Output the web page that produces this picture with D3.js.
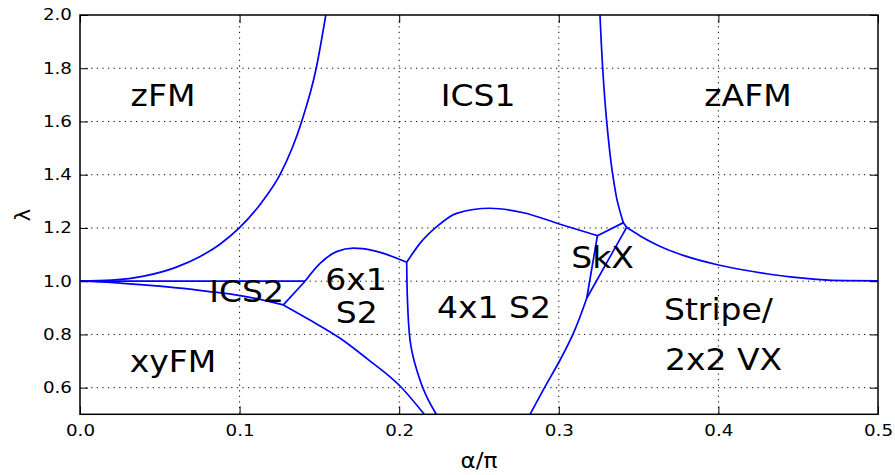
<!DOCTYPE html>
<html>
<head>
<meta charset="utf-8">
<script src="https://cdn.jsdelivr.net/npm/d3@7"></script>
<style>
  body { margin: 0; background: #fff; }
  text { font-family: "DejaVu Sans", sans-serif; fill: #000; }
</style>
</head>
<body>
<div id="chart"></div>
<script>
// phase boundaries, [alpha/pi, lambda]
const zfmBoundary = [[0, 1.0], [0.02, 1.004], [0.04, 1.019], [0.06, 1.052], [0.075, 1.092], [0.0877, 1.139],
  [0.0998, 1.2], [0.1138, 1.296], [0.1253, 1.4], [0.1389, 1.6], [0.148, 1.8], [0.154, 2.0]];
const zafmBoundary = [[0.3258, 2.0], [0.3275, 1.8], [0.33, 1.6], [0.3338, 1.4], [0.3367, 1.3], [0.3404, 1.22]];
const stripeTop = [[0.3425, 1.2025], [0.351, 1.17], [0.36, 1.141], [0.3676, 1.12], [0.378, 1.097], [0.3885, 1.078],
  [0.4, 1.061], [0.415, 1.043], [0.4302, 1.028], [0.445, 1.016], [0.4616, 1.007], [0.48, 1.002], [0.5, 1.001]];
const ics1Bottom = [[0.2047, 1.071], [0.213, 1.142], [0.2235, 1.205], [0.236, 1.255], [0.2569, 1.274],
  [0.2778, 1.257], [0.3008, 1.214], [0.3242, 1.171]];
const skxTop = [[0.3242, 1.171], [0.3404, 1.22], [0.3425, 1.2025]];
const skxLeft = [[0.3242, 1.171], [0.3175, 0.936]];
const skxRight = [[0.3425, 1.2025], [0.3175, 0.936]];
const stripeLeft = [[0.3175, 0.936], [0.3091, 0.804], [0.3008, 0.704], [0.2914, 0.604], [0.282, 0.5]];
const s6Top = [[0.141, 1.0], [0.1504, 1.067], [0.1608, 1.111], [0.1713, 1.124], [0.1838, 1.115], [0.2047, 1.071]];
const s6Right = [[0.2047, 1.071], [0.2051, 0.942], [0.2068, 0.779], [0.211, 0.666], [0.2172, 0.566], [0.2232, 0.5]];
const xyfmTop = [[0.1274, 0.911], [0.1441, 0.854], [0.163, 0.7855], [0.1796, 0.71], [0.2005, 0.6063], [0.2157, 0.5]];
const ics2Top = [[0, 1.0], [0.141, 1.0]];
const ics2Bottom = [[0, 1.0], [0.0209, 0.995], [0.04, 0.986], [0.0627, 0.974], [0.08, 0.962], [0.1003, 0.946], [0.1274, 0.911]];
const ics2Right = [[0.1274, 0.911], [0.141, 1.0]];

// which interpolation suits each boundary: "x" = smooth in alpha, "y" = smooth in lambda, "l" = straight
const boundaries = [
  [zfmBoundary, "x"], [zafmBoundary, "y"], [stripeTop, "x"], [ics1Bottom, "x"],
  [skxTop, "l"], [skxLeft, "l"], [skxRight, "l"], [stripeLeft, "y"],
  [s6Top, "x"], [s6Right, "y"], [xyfmTop, "x"], [ics2Top, "l"], [ics2Bottom, "x"], [ics2Right, "l"]
];

// phase names: [text, alpha/pi, lambda (baseline), anchor]
const phaseLabels = [
  ["zFM", 0.052, 1.658, "middle"],
  ["ICS1", 0.2494, 1.658, "middle"],
  ["zAFM", 0.4185, 1.658, "middle"],
  ["ICS2", 0.1044, 0.923, "middle"],
  ["6x1", 0.1729, 0.967, "middle"],
  ["S2", 0.1734, 0.842, "middle"],
  ["4x1 S2", 0.2594, 0.862, "middle"],
  ["SkX", 0.3274, 1.048, "middle"],
  ["Stripe/", 0.3659, 0.854, "start"],
  ["2x2 VX", 0.3665, 0.666, "start"],
  ["xyFM", 0.0583, 0.659, "middle"]
];

const xTicks = [0, 0.1, 0.2, 0.3, 0.4, 0.5];
const yTicks = [0.6, 0.8, 1.0, 1.2, 1.4, 1.6, 1.8, 2.0];

const width = 895, height = 475;
const margin = { top: 15, right: 17, bottom: 60.7, left: 80 };
const plotW = width - margin.left - margin.right;
const plotH = height - margin.top - margin.bottom;

const svg = d3.select("#chart").append("svg")
  .attr("width", width)
  .attr("height", height);

const g = svg.append("g")
  .attr("transform", `translate(${margin.left},${margin.top})`);

const x = d3.scaleLinear().domain([0, 0.5]).range([0, plotW]);
const y = d3.scaleLinear().domain([0.5, 2.0]).range([plotH, 0]);

svg.append("defs").append("clipPath").attr("id", "plotClip")
  .append("rect").attr("width", plotW).attr("height", plotH);

// dotted grid
const grid = g.append("g").attr("class", "grid")
  .attr("stroke", "#000").attr("stroke-width", 1).attr("stroke-dasharray", "1.2,4.4");
grid.selectAll(".gx").data(xTicks.filter(d => d > 0 && d < 0.5)).join("line")
  .attr("x1", d => x(d)).attr("x2", d => x(d)).attr("y1", 0).attr("y2", plotH);
grid.selectAll(".gy").data(yTicks.filter(d => d < 2.0)).join("line")
  .attr("y1", d => y(d)).attr("y2", d => y(d)).attr("x1", 0).attr("x2", plotW);

// boundaries
const curves = { x: d3.curveMonotoneX, y: d3.curveMonotoneY, l: d3.curveLinear };
const line = d3.line()
  .x(d => x(d[0]))
  .y(d => y(d[1]));

g.append("g").attr("clip-path", "url(#plotClip)")
  .selectAll("path").data(boundaries).join("path")
  .attr("d", d => line.curve(curves[d[1]])(d[0]))
  .attr("fill", "none")
  .attr("stroke", "#0000ff")
  .attr("stroke-width", 1.7);

// axes, ticks pointing inward on all four sides
const tickSx = 1.18;
const fmt = d3.format(".1f");

const xAxis = g.append("g")
  .attr("transform", `translate(0,${plotH})`)
  .call(d3.axisBottom(x).tickValues(xTicks).tickFormat(fmt).tickSize(-8).tickSizeOuter(0).tickPadding(11));
const yAxis = g.append("g")
  .call(d3.axisLeft(y).tickValues(yTicks).tickFormat(fmt).tickSize(-8).tickSizeOuter(0).tickPadding(8));
g.append("g")
  .call(d3.axisTop(x).tickValues(xTicks).tickFormat("").tickSize(-8).tickSizeOuter(0));
g.append("g")
  .attr("transform", `translate(${plotW},0)`)
  .call(d3.axisRight(y).tickValues(yTicks).tickFormat("").tickSize(-8).tickSizeOuter(0));

g.selectAll(".domain").remove();
g.selectAll(".tick line").attr("stroke", "#000").attr("stroke-width", 1);

xAxis.selectAll("text")
  .attr("font-size", 15.5)
  .attr("transform", `scale(${tickSx},1)`);
yAxis.selectAll("text")
  .attr("font-size", 15.5)
  .attr("x", 0)
  .attr("transform", `translate(-8,0) scale(${tickSx},1)`);

// frame
g.append("rect")
  .attr("width", plotW).attr("height", plotH)
  .attr("fill", "none").attr("stroke", "#000").attr("stroke-width", 1.5);

// phase labels
const labelSx = 1.1;
g.selectAll(".phase").data(phaseLabels).join("text")
  .attr("class", "phase")
  .attr("transform", d => `translate(${x(d[1])},${y(d[2])}) scale(${labelSx},1)`)
  .attr("text-anchor", d => d[3])
  .attr("font-size", 30)
  .text(d => d[0]);

// axis titles
svg.append("text")
  .attr("transform", `translate(${margin.left + plotW / 2},468) scale(${labelSx},1)`)
  .attr("text-anchor", "middle")
  .attr("font-size", 21)
  .text("α/π");

svg.append("text")
  .attr("transform", `translate(30,${margin.top + 200}) rotate(-90)`)
  .attr("text-anchor", "middle")
  .attr("font-size", 21)
  .text("λ");
</script>
</body>
</html>
